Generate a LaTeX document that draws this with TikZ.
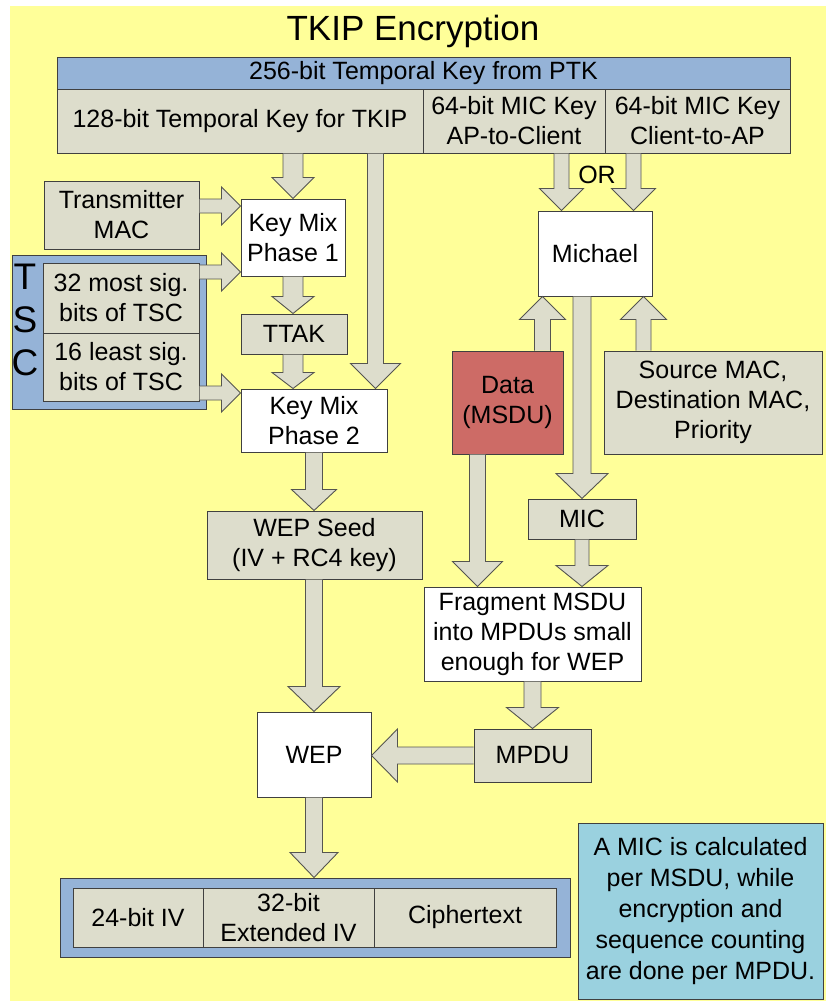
\documentclass[tikz,border=0pt]{standalone}
\usepackage{fontspec}
\setmainfont{Liberation Sans}
\usetikzlibrary{calc}
\definecolor{bgyellow}{RGB}{255,255,153}
\definecolor{hdrblue}{RGB}{149,179,215}
\definecolor{boxgray}{RGB}{221,221,204}
\definecolor{datared}{RGB}{205,107,102}
\definecolor{notecyan}{RGB}{154,209,223}
\definecolor{edgeclr}{RGB}{64,64,64}
\definecolor{arrowedge}{RGB}{85,85,80}
\newcommand{\fs}{\fontsize{25}{30}\selectfont}
% block arrow: start, tip, shaft half width, head half width, head length
\newcommand{\barrow}[5]{%
  \path[fill=boxgray,draw=arrowedge,line width=0.9pt,line join=miter]
    let \p1=#1, \p2=#2, \n1={atan2(\y2-\y1,\x2-\x1)}, \n2={veclen(\x2-\x1,\y2-\y1)} in
    [shift={(\p1)}, rotate=\n1]
    (0,{#3}) -- ({\n2-#5},{#3}) -- ({\n2-#5},{#4}) -- ({\n2},0) -- ({\n2-#5},{-#4}) -- ({\n2-#5},{-#3}) -- (0,{-#3});
}
\begin{document}
\begin{tikzpicture}[x=1pt,y=-1pt,
  box/.style={draw=edgeclr,line width=1pt,inner sep=0pt,align=center,font=\fs,text=black},
  graybox/.style={box,fill=boxgray},
  whitebox/.style={box,fill=white},
  bluebox/.style={box,fill=hdrblue},
  redbox/.style={box,fill=datared},
  notebox/.style={box,fill=notecyan,font=\fontsize{25}{31}\selectfont},
  tscletter/.style={inner sep=0pt,font=\fontsize{37}{37}\selectfont}]
\useasboundingbox (0,0) rectangle (826,1001);
\fill[bgyellow] (10,6) rectangle (826,1001);

% title
\node[inner sep=0pt,font=\fontsize{35}{35}\selectfont] (title) at (413,31) {TKIP Encryption};

% key hierarchy
\node[bluebox,minimum width=733pt,minimum height=32pt] (hdr) at (423.5,73) {256-bit Temporal Key from PTK};
\node[graybox,minimum width=366pt,minimum height=64pt] (tk128) at (240,121) {128-bit Temporal Key for TKIP};
\node[graybox,minimum width=182pt,minimum height=64pt] (mic1) at (514,121) {64-bit MIC Key\\AP-to-Client};
\node[graybox,minimum width=185pt,minimum height=64pt] (mic2) at (697.5,121) {64-bit MIC Key\\Client-to-AP};

% left column
\node[graybox,minimum width=155pt,minimum height=68pt] (txmac) at (121.5,215) {Transmitter\\MAC};
\node[whitebox,minimum width=104pt,minimum height=77pt] (kmp1) at (293,237.5) {Key Mix\\Phase 1};
\node[bluebox,minimum width=194pt,minimum height=154pt] (tsc) at (109,332) {};
\node[graybox,minimum width=156pt,minimum height=70pt] (tsc32) at (121,298) {32 most sig.\\bits of TSC};
\node[graybox,minimum width=156pt,minimum height=68pt] (tsc16) at (121,367) {16 least sig.\\bits of TSC};
\node[tscletter] (tscT) at (25,277) {T};
\node[tscletter] (tscS) at (25,320) {S};
\node[tscletter] (tscC) at (25,363) {C};
\node[graybox,minimum width=106pt,minimum height=40pt] (ttak) at (294,334) {TTAK};
\node[whitebox,minimum width=146pt,minimum height=63pt] (kmp2) at (314,420.5) {Key Mix\\Phase 2};
\node[graybox,minimum width=215pt,minimum height=68pt] (seed) at (314.5,545) {WEP Seed\\(IV + RC4 key)};
\node[whitebox,minimum width=114pt,minimum height=85pt] (wep) at (314,754.5) {WEP};

% output frame
\node[bluebox,minimum width=510pt,minimum height=79pt] (out) at (315,917.5) {};
\node[graybox,minimum width=130pt,minimum height=59pt] (iv24) at (138,917.5) {24-bit IV};
\node[graybox,minimum width=171pt,minimum height=59pt] (eiv) at (288.5,917.5) {32-bit\\Extended IV};
\node[graybox,minimum width=182pt,minimum height=59pt] (ct) at (465,917.5) {Ciphertext};

% right column
\node[whitebox,minimum width=114pt,minimum height=85pt] (michael) at (595,253.5) {Michael};
\node[inner sep=0pt,font=\fs] (or) at (597,175) {OR};
\node[redbox,minimum width=111pt,minimum height=103pt] (data) at (507.5,402.5) {Data\\(MSDU)};
\node[graybox,minimum width=218pt,minimum height=103pt] (src) at (713,402.5) {Source MAC,\\Destination MAC,\\Priority};
\node[graybox,minimum width=108pt,minimum height=40pt] (mic) at (582,519) {MIC};
\node[whitebox,minimum width=217pt,minimum height=94pt] (frag) at (532.5,634) {Fragment MSDU\\into MPDUs small\\enough for WEP};
\node[graybox,minimum width=117pt,minimum height=53pt] (mpdu) at (532.5,755.5) {MPDU};

% note
\node[notebox,minimum width=245pt,minimum height=176pt] (note) at (700.5,911) {A MIC is calculated\\per MSDU, while\\encryption and\\sequence counting\\are done per MPDU.};

% helper coordinates
\coordinate (a2) at ($(kmp2.north east)+(-12,0)$);
\coordinate (a3) at ($(txmac.east)+(0,-9)$);
\coordinate (a4) at ($(tsc32.east)+(0,-26)$);
\coordinate (a5) at ($(tsc16.east)+(0,26)$);
\coordinate (a11) at ($(michael.north west)+(24,0)$);
\coordinate (a12) at ($(michael.north east)+(-19,0)$);
\coordinate (a13) at ($(michael.south west)+(5,0)$);
\coordinate (a14) at ($(michael.south east)+(-9,0)$);
\coordinate (a17) at ($(frag.north west)+(54,0)$);

% block arrows
\barrow{(kmp1.north |- tk128.south)}{(kmp1.north)}{10}{21}{21}
\barrow{(a2 |- tk128.south)}{(a2)}{8}{25}{25}
\barrow{(a3)}{(a3 -| kmp1.west)}{7}{19}{19}
\barrow{(a4)}{(a4 -| kmp1.west)}{7}{19}{19}
\barrow{(a5)}{(a5 -| kmp2.west)}{7}{19}{19}
\barrow{(kmp1.south)}{(kmp1.south |- ttak.north)}{10}{21}{17}
\barrow{(kmp1.south |- ttak.south)}{(kmp1.south |- kmp2.north)}{10}{21}{16}
\barrow{(kmp2.south)}{(kmp2.south |- seed.north)}{8.5}{22.5}{21}
\barrow{(kmp2.south |- seed.south)}{(kmp2.south |- wep.north)}{8.5}{26}{25}
\barrow{(kmp2.south |- wep.south)}{(kmp2.south |- out.north)}{8.5}{24}{25}
\barrow{(a11 |- mic1.south)}{(a11)}{7.5}{22}{22}
\barrow{(a12 |- mic2.south)}{(a12)}{7.5}{22}{22}
\barrow{(a13 |- data.north)}{(a13)}{8}{23}{23}
\barrow{(a14 |- src.north)}{(a14)}{7.5}{23}{23}
\barrow{(mic.north |- michael.south)}{(mic.north)}{9}{26}{25}
\barrow{(mic.south)}{(mic.south |- frag.north)}{7}{26}{21}
\barrow{(a17 |- data.south)}{(a17)}{8}{25}{25}
\barrow{(frag.south)}{(frag.south |- mpdu.north)}{8.5}{26}{21}
\barrow{(mpdu.west)}{(mpdu.west -| wep.east)}{8.5}{26.5}{26}
\end{tikzpicture}
\end{document}
